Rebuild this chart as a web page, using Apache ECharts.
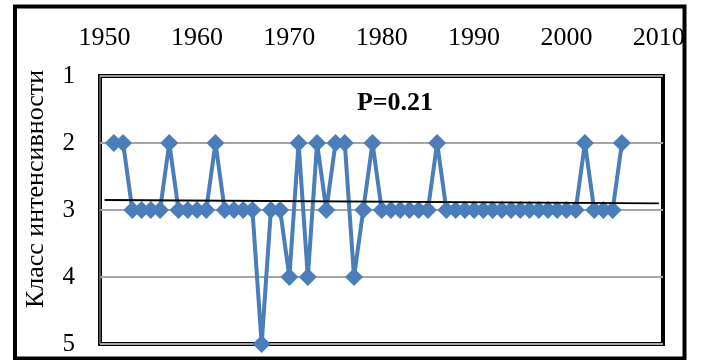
<!DOCTYPE html>
<html>
<head>
<meta charset="utf-8">
<script src="https://cdn.jsdelivr.net/npm/echarts@6/dist/echarts.min.js"></script>
<style>
  html, body { margin: 0; padding: 0; background: #fff; }
  #chart { width: 701px; height: 360px; }
</style>
</head>
<body>
<div id="chart"></div>
<script>
// Observation years and the intensity class recorded for each
const years = [
  1951, 1952, 1953, 1954, 1955, 1956, 1957, 1958, 1959, 1960,
  1961, 1962, 1963, 1964, 1965, 1966, 1967, 1968, 1969, 1970,
  1971, 1972, 1973, 1974, 1975, 1976, 1977, 1978, 1979, 1980,
  1981, 1982, 1983, 1984, 1985, 1986, 1987, 1988, 1989, 1990,
  1991, 1992, 1993, 1994, 1995, 1996, 1997, 1998, 1999, 2000,
  2001, 2002, 2003, 2004, 2005, 2006
];
const intensityClass = [
  2, 2, 3, 3, 3, 3, 2, 3, 3, 3,
  3, 2, 3, 3, 3, 3, 5, 3, 3, 4,
  2, 4, 2, 3, 2, 2, 4, 3, 2, 3,
  3, 3, 3, 3, 3, 2, 3, 3, 3, 3,
  3, 3, 3, 3, 3, 3, 3, 3, 3, 3,
  3, 2, 3, 3, 3, 2
];
const yearTicks = [1950, 1960, 1970, 1980, 1990, 2000, 2010];
const trendSpan = [1950, 2010];
const axisTitle = 'Класс интенсивности';
const pLabel = 'P=0.21';

// Ordinary least-squares line through the yearly classes
function linearFit(xs, ys) {
  const n = xs.length;
  const mx = xs.reduce((s, v) => s + v, 0) / n;
  const my = ys.reduce((s, v) => s + v, 0) / n;
  let sxy = 0, sxx = 0;
  for (let i = 0; i < n; i++) {
    sxy += (xs[i] - mx) * (ys[i] - my);
    sxx += (xs[i] - mx) * (xs[i] - mx);
  }
  const slope = sxy / sxx;
  return x => my + slope * (x - mx);
}
const trendAt = linearFit(years, intensityClass);
const trendPoints = trendSpan.map(x => [x, trendAt(x)]);
const seriesPoints = years.map((y, i) => [y, intensityClass[i]]);

const serif = '"Liberation Serif", "Times New Roman", serif';
const chart = echarts.init(document.getElementById('chart'), null, { renderer: 'canvas' });

// plot rectangle in pixels
const plot = { left: 100, right: 663, top: 76, bottom: 344 };

chart.setOption({
  animation: false,
  backgroundColor: '#fff',
  grid: {
    left: plot.left, right: 701 - plot.right, top: plot.top, bottom: 360 - plot.bottom,
    show: true, borderColor: '#000', borderWidth: 4, backgroundColor: '#fff'
  },
  xAxis: {
    type: 'value',
    position: 'top',
    min: 1949.5,
    max: 2010.45,
    axisLine: { show: false },
    axisTick: { show: false },
    splitLine: { show: false },
    axisLabel: {
      customValues: yearTicks,
      formatter: v => String(v),
      margin: 25,
      color: '#000',
      fontFamily: serif,
      fontSize: 26
    }
  },
  yAxis: {
    type: 'value',
    inverse: true,
    min: 1,
    max: 5,
    interval: 1,
    axisLine: { show: false },
    axisTick: { show: false },
    splitLine: { show: true, lineStyle: { color: '#a6a6a6', width: 2 } },
    axisLabel: {
      margin: 25,
      padding: [10, 0, 0, 0],
      color: '#000',
      fontFamily: serif,
      fontSize: 25
    }
  },
  series: [
    {
      type: 'line',
      data: seriesPoints,
      clip: false,
      symbol: 'diamond',
      symbolSize: 18,
      showAllSymbol: true,
      lineStyle: { color: '#4a7ebb', width: 4 },
      itemStyle: { color: '#4a7ebb' },
      z: 3
    },
    {
      type: 'line',
      data: trendPoints,
      clip: false,
      symbol: 'none',
      lineStyle: { color: '#000', width: 1.8 },
      silent: true,
      z: 4
    }
  ],
  graphic: [
    {
      // lighter inner rule on the upper and left plot edges
      type: 'polyline',
      shape: { points: [[plot.left, plot.bottom], [plot.left, plot.top], [plot.right, plot.top]] },
      style: { stroke: '#8c8c8c', lineWidth: 1.2, fill: null },
      z: 1
    },
    {
      type: 'text',
      x: 36,
      y: 189,
      rotation: Math.PI / 2,
      style: {
        text: axisTitle,
        font: '26px ' + serif,
        fill: '#000',
        align: 'center',
        verticalAlign: 'middle'
      },
      z: 10
    },
    {
      type: 'text',
      x: 395,
      y: 103,
      style: {
        text: pLabel,
        font: 'bold 26px ' + serif,
        fill: '#000',
        align: 'center',
        verticalAlign: 'middle'
      },
      z: 10
    },
    {
      type: 'rect',
      shape: { x: 15, y: 6.5, width: 669.5, height: 352 },
      style: { fill: null, stroke: '#000', lineWidth: 4 },
      z: 100
    }
  ]
});
</script>
</body>
</html>
